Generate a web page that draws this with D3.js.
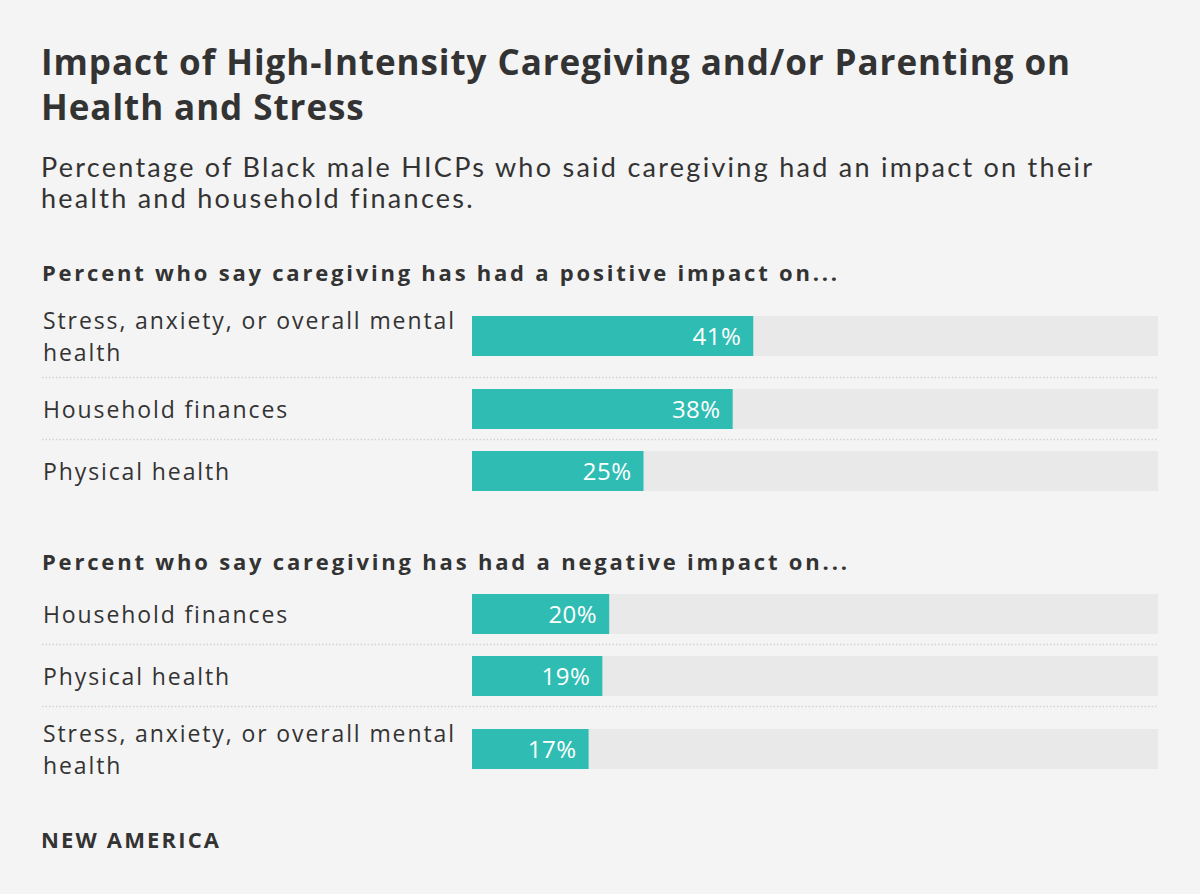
<!DOCTYPE html>
<html>
<head>
<meta charset="utf-8">
<script src="https://cdn.jsdelivr.net/npm/d3@7"></script>
<style>
  body { margin: 0; background: #f4f4f4; }
  svg { display: block; font-family: "Open Sans", "Lato", sans-serif; }
</style>
</head>
<body>
<svg id="chart" width="1200" height="894"></svg>
<script>
let WIDTH = 1200, HEIGHT = 894;

let titleLines = ["Impact of High-Intensity Caregiving and/or Parenting on", "Health and Stress"];
let subtitleLines = ["Percentage of Black male HICPs who said caregiving had an impact on their", "health and household finances."];

let positiveHeader = "Percent who say caregiving has had a positive impact on...";
let positiveLabels = [["Stress, anxiety, or overall mental", "health"], ["Household finances"], ["Physical health"]];
let positiveValues = [41, 38, 25];

let negativeHeader = "Percent who say caregiving has had a negative impact on...";
let negativeLabels = [["Household finances"], ["Physical health"], ["Stress, anxiety, or overall mental", "health"]];
let negativeValues = [20, 19, 17];

let TEXT = "#333333", BAR = "#2fbdb3", TRACK = "#e9e9e9";

let svg = d3.select("#chart");
svg.append("rect").attr("width", WIDTH).attr("height", HEIGHT).attr("fill", "#f4f4f4");

let x = d3.scaleLinear().domain([0, 100]).range([472, 1158]);

// stretch tracking so a line reaches the target width (the original font is wider)
function spacingFor(node, target) {
    let len = node.getComputedTextLength();
    let n = node.textContent.length;
    return (target - len) / Math.max(1, n - 1);
}

// multi-line text as one <text> with tspans
function multiline(parent, lines, xPos, y0, lineH) {
    let t = parent.append("text").attr("x", xPos).attr("y", y0).attr("fill", TEXT);
    t.selectAll("tspan")
        .data(lines)
        .join("tspan")
        .attr("x", xPos)
        .attr("dy", (d, i) => i === 0 ? 0 : lineH)
        .text(d => d);
    return t;
}

let title = multiline(svg, titleLines, 41, 75, 45)
    .attr("font-size", 35)
    .attr("font-weight", 700);
title.attr("letter-spacing", spacingFor(title.select("tspan").node(), 1029));

// subtitle in Lato: tighter line box so the two lines don't collide
let sub = multiline(svg, subtitleLines, 41, 177, 31)
    .attr("font-family", "Lato, sans-serif")
    .attr("font-size", 27);
sub.attr("letter-spacing", spacingFor(sub.select("tspan").node(), 1051));

let labelSpacing = null;

function drawGroup(top, header, headerW, labels, values) {
    let g = svg.append("g").attr("transform", `translate(0, ${top})`);

    let h = g.append("text")
        .attr("x", 42)
        .attr("y", 0)
        .attr("fill", TEXT)
        .attr("font-size", 22)
        .attr("font-weight", 700)
        .text(header);
    h.attr("letter-spacing", spacingFor(h.node(), headerW));

    // each row: label block (>= bar height), 22px between blocks with a dotted rule
    let rows = [];
    let y = 24;
    labels.forEach(function (lab, i) {
        let blockH = lab.length > 1 ? 62 : 40;
        rows.push({ label: lab, value: values[i], top: y, blockH: blockH, barY: y + (blockH - 40) / 2, last: i === labels.length - 1 });
        y += blockH + 22;
    });

    let row = g.selectAll("g.row")
        .data(rows)
        .join("g")
        .attr("class", "row");

    row.append("rect")
        .attr("x", x(0))
        .attr("y", d => d.barY)
        .attr("width", x(100) - x(0))
        .attr("height", 40)
        .attr("fill", TRACK);

    row.append("rect")
        .attr("x", x(0))
        .attr("y", d => d.barY)
        .attr("width", d => x(d.value) - x(0))
        .attr("height", 40)
        .attr("fill", BAR);

    row.append("text")
        .attr("x", d => x(d.value) - 12)
        .attr("y", d => d.barY + 29)
        .attr("text-anchor", "end")
        .attr("fill", "#ffffff")
        .attr("font-size", 24)
        .attr("letter-spacing", 0.5)
        .text(d => d.value + "%");

    row.each(function (d) {
        let n = d.label.length;
        let first = d.barY + 29 - (n - 1) * 16;
        let t = multiline(d3.select(this), d.label, 43, first, 32)
            .attr("class", "lab")
            .attr("font-size", 23);
        if (labelSpacing === null && n > 1) labelSpacing = spacingFor(t.select("tspan").node(), 411);
    });

    row.filter(d => !d.last).append("line")
        .attr("x1", 42)
        .attr("x2", 1158)
        .attr("y1", d => d.top + d.blockH + 10.5)
        .attr("y2", d => d.top + d.blockH + 10.5)
        .attr("stroke", "#d2d2d2")
        .attr("stroke-width", 1.5)
        .attr("stroke-dasharray", "1.5,2");
}

drawGroup(281, positiveHeader, 795, positiveLabels, positiveValues);
drawGroup(570, negativeHeader, 805, negativeLabels, negativeValues);
svg.selectAll("text.lab").attr("letter-spacing", labelSpacing);

let brand = svg.append("text")
    .attr("x", 41)
    .attr("y", 848)
    .attr("fill", TEXT)
    .attr("font-size", 22)
    .attr("font-weight", 700)
    .text("NEW AMERICA");
brand.attr("letter-spacing", spacingFor(brand.node(), 178));
</script>
</body>
</html>
